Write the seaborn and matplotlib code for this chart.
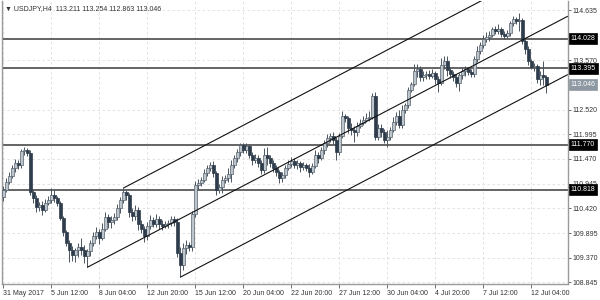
import numpy as np
import pandas as pd
import matplotlib
matplotlib.use("Agg")
import matplotlib.pyplot as plt
import seaborn as sns

# ---------------- data ----------------
opens = [
    110.662, 110.811, 110.982, 111.110, 111.281, 111.388, 111.345, 111.644, 111.666, 111.602,
    110.768, 110.640, 110.448, 110.491, 110.384, 110.533, 110.597, 110.704, 110.640, 110.533,
    110.213, 109.914, 109.679, 109.529, 109.422, 109.529, 109.593, 109.529, 109.401, 109.508,
    109.679, 109.828, 109.914, 109.785, 109.978, 110.234, 110.127, 110.170, 110.234, 110.426,
    110.597, 110.768, 110.704, 110.341, 110.256, 110.384, 110.085, 109.978, 109.828, 110.042,
    110.170, 110.085, 110.191, 110.085, 110.042, 110.085, 110.106, 110.191, 110.127, 109.465,
    109.208, 109.572, 109.636, 109.593, 110.298, 110.918, 110.961, 111.025, 111.174, 111.281,
    111.345, 111.174, 110.811, 110.875, 111.025, 111.067, 111.153, 111.345, 111.495, 111.623,
    111.773, 111.666, 111.751, 111.559, 111.452, 111.495, 111.388, 111.238, 111.559, 111.495,
    111.388, 111.281, 111.196, 111.067, 111.132, 111.281, 111.367, 111.431, 111.345, 111.388,
    111.303, 111.345, 111.281, 111.196, 111.324, 111.559, 111.495, 111.666, 111.815, 111.922,
    111.965, 111.879, 111.623, 111.965, 112.392, 112.350, 112.136, 112.093, 112.050, 112.179,
    112.243, 112.307, 112.350, 112.371, 112.798, 111.944, 112.136, 112.050, 111.879, 111.944,
    112.093, 112.264, 112.392, 112.200, 112.521, 112.627, 112.927, 113.055, 113.333, 113.375,
    113.204, 113.247, 113.268, 113.226, 113.290, 113.162, 113.076, 113.461, 113.546, 113.354,
    113.268, 113.204, 113.076, 113.247, 113.333, 113.375, 113.311, 113.268, 113.589, 113.760,
    113.888, 114.016, 114.059, 114.102, 114.230, 114.187, 114.230, 114.123, 114.080, 114.144,
    114.358, 114.444, 114.401, 114.422, 113.974, 113.803, 113.546, 113.418, 113.439, 113.162,
    113.247, 113.211,
]
highs = [
    110.897, 111.067, 111.196, 111.345, 111.473, 111.452, 111.687, 111.730, 111.709, 111.666,
    110.811, 110.704, 110.555, 110.576, 110.619, 110.683, 110.854, 110.811, 110.683, 110.576,
    110.256, 109.956, 109.743, 109.614, 109.572, 109.679, 109.785, 109.636, 109.550, 109.743,
    109.914, 110.020, 109.978, 110.106, 110.341, 110.298, 110.256, 110.320, 110.512, 110.662,
    110.854, 110.811, 110.747, 110.426, 110.491, 110.448, 110.170, 110.042, 110.127, 110.277,
    110.234, 110.298, 110.256, 110.170, 110.149, 110.170, 110.256, 110.256, 110.213, 109.593,
    109.679, 109.743, 109.700, 110.362, 111.003, 111.046, 111.089, 111.260, 111.345, 111.409,
    111.431, 111.217, 110.939, 111.110, 111.132, 111.281, 111.452, 111.559, 111.687, 111.815,
    111.815, 111.815, 111.794, 111.623, 111.580, 111.559, 111.452, 111.709, 111.730, 111.559,
    111.452, 111.345, 111.238, 111.196, 111.345, 111.452, 111.516, 111.495, 111.452, 111.431,
    111.409, 111.388, 111.367, 111.388, 111.666, 111.623, 111.730, 111.879, 112.008, 112.029,
    112.050, 111.944, 112.029, 112.499, 112.435, 112.392, 112.243, 112.179, 112.264, 112.328,
    112.392, 112.456, 112.499, 112.862, 112.884, 112.221, 112.221, 112.115, 112.093, 112.157,
    112.371, 112.478, 112.521, 112.627, 112.670, 112.991, 113.097, 113.482, 113.482, 113.439,
    113.333, 113.333, 113.354, 113.375, 113.333, 113.226, 113.610, 113.653, 113.653, 113.418,
    113.333, 113.268, 113.290, 113.418, 113.439, 113.418, 113.375, 113.653, 113.867, 113.952,
    114.102, 114.166, 114.187, 114.273, 114.294, 114.337, 114.273, 114.187, 114.209, 114.401,
    114.508, 114.486, 114.572, 114.465, 114.038, 113.867, 113.589, 113.503, 113.482, 113.333,
    113.546, 113.254,
]
lows = [
    110.576, 110.768, 110.939, 111.067, 111.196, 111.260, 111.281, 111.559, 111.538, 110.704,
    110.533, 110.341, 110.362, 110.277, 110.341, 110.491, 110.533, 110.555, 110.469, 110.170,
    109.828, 109.614, 109.273, 109.294, 109.273, 109.379, 109.422, 109.251, 109.166, 109.401,
    109.614, 109.764, 109.657, 109.743, 109.935, 109.999, 109.999, 110.085, 110.170, 110.320,
    110.533, 110.597, 110.234, 110.149, 110.170, 109.956, 109.892, 109.700, 109.743, 109.978,
    110.020, 110.020, 109.978, 109.956, 109.999, 109.999, 110.042, 110.042, 109.379, 108.952,
    109.102, 109.444, 109.508, 109.508, 110.234, 110.811, 110.897, 110.982, 111.110, 111.217,
    111.089, 110.704, 110.747, 110.747, 110.961, 110.982, 110.982, 111.281, 111.409, 111.538,
    111.602, 111.602, 111.495, 111.345, 111.388, 111.303, 111.153, 111.174, 111.345, 111.303,
    111.196, 111.110, 110.961, 110.982, 111.067, 111.238, 111.303, 111.281, 111.260, 111.196,
    111.238, 111.217, 111.089, 111.153, 111.281, 111.388, 111.452, 111.580, 111.730, 111.837,
    111.794, 111.452, 111.559, 111.922, 112.264, 112.029, 111.986, 111.837, 111.965, 112.136,
    112.200, 112.264, 112.286, 112.328, 111.879, 111.879, 111.944, 111.815, 111.730, 111.879,
    112.050, 112.200, 112.136, 112.136, 112.456, 112.563, 112.884, 113.012, 113.204, 113.119,
    113.119, 113.162, 113.162, 113.183, 113.055, 112.884, 113.033, 113.375, 113.226, 113.183,
    113.119, 112.991, 112.905, 113.162, 113.226, 113.247, 113.204, 113.204, 113.525, 113.696,
    113.824, 113.952, 113.974, 114.059, 114.123, 114.123, 114.059, 114.016, 114.038, 114.080,
    114.294, 114.337, 114.187, 113.909, 113.696, 113.461, 113.375, 113.333, 113.076, 113.033,
    113.033, 112.863,
]
closes = [
    110.811, 110.982, 111.110, 111.281, 111.388, 111.345, 111.644, 111.666, 111.602, 110.768,
    110.640, 110.448, 110.491, 110.384, 110.533, 110.597, 110.704, 110.640, 110.533, 110.213,
    109.914, 109.679, 109.529, 109.422, 109.529, 109.593, 109.529, 109.401, 109.508, 109.679,
    109.828, 109.914, 109.785, 109.978, 110.234, 110.127, 110.170, 110.234, 110.426, 110.597,
    110.768, 110.704, 110.341, 110.256, 110.384, 110.085, 109.978, 109.828, 110.042, 110.170,
    110.085, 110.191, 110.085, 110.042, 110.085, 110.106, 110.191, 110.127, 109.465, 109.208,
    109.572, 109.636, 109.593, 110.298, 110.918, 110.961, 111.025, 111.174, 111.281, 111.345,
    111.174, 110.811, 110.875, 111.025, 111.067, 111.153, 111.345, 111.495, 111.623, 111.773,
    111.666, 111.751, 111.559, 111.452, 111.495, 111.388, 111.238, 111.559, 111.495, 111.388,
    111.281, 111.196, 111.067, 111.132, 111.281, 111.367, 111.431, 111.345, 111.388, 111.303,
    111.345, 111.281, 111.196, 111.324, 111.559, 111.495, 111.666, 111.815, 111.922, 111.965,
    111.879, 111.623, 111.965, 112.392, 112.350, 112.136, 112.093, 112.050, 112.179, 112.243,
    112.307, 112.350, 112.371, 112.798, 111.944, 112.136, 112.050, 111.879, 111.944, 112.093,
    112.264, 112.392, 112.200, 112.521, 112.627, 112.927, 113.055, 113.333, 113.375, 113.204,
    113.247, 113.268, 113.226, 113.290, 113.162, 113.076, 113.461, 113.546, 113.354, 113.268,
    113.204, 113.076, 113.247, 113.333, 113.375, 113.311, 113.268, 113.589, 113.760, 113.888,
    114.016, 114.059, 114.102, 114.230, 114.187, 114.230, 114.123, 114.080, 114.144, 114.358,
    114.444, 114.401, 114.422, 113.974, 113.803, 113.546, 113.418, 113.439, 113.162, 113.247,
    113.211, 113.046,
]

date_tick_idx = [0, 16, 32, 48, 64, 80, 96, 112, 128, 144, 160, 176]
date_labels = ["31 May 2017", "5 Jun 12:00", "8 Jun 04:00", "12 Jun 20:00",
               "15 Jun 12:00", "20 Jun 04:00", "22 Jun 20:00", "27 Jun 12:00",
               "30 Jun 04:00", "4 Jul 20:00", "7 Jul 12:00", "12 Jul 04:00"]
price_ticks = [108.845, 109.370, 109.895, 110.420, 110.945, 111.470,
               111.995, 112.520, 113.570, 114.635]
levels = [114.028, 113.395, 111.770, 110.818]
last_price = 113.046
trend_start_idx = [40, 28, 59]
trend_start_price = [110.853, 109.170, 108.960]
trend_end_idx = [188, 188, 188]
trend_end_price = [115.790, 114.500, 113.260]
title = "\u25bc USDJPY,H4  113.211 113.254 112.863 113.046"

# ---------------- style ----------------
sns.set_style("white")
plt.rcParams["font.family"] = ["Liberation Sans", "DejaVu Sans"]

fig = plt.figure(figsize=(6, 3), dpi=100)
ax = fig.add_axes([2 / 600, 16 / 300, 566 / 600, 283 / 300])

df = pd.DataFrame({"idx": np.arange(len(closes)), "open": opens, "high": highs,
                   "low": lows, "close": closes})

FS = 5.0
TXT = "#333333"

# grid
ax.set_xticks(date_tick_idx)
ax.set_yticks(price_ticks)
ax.grid(True, color="#dedede", linestyle=(0, (3, 3)), linewidth=0.6, zorder=0)

# horizontal levels
for lv in levels:
    ax.axhline(lv, color="#3a3a3a", linewidth=1.1, zorder=2)

# trendlines
for x0, y0, x1, y1 in zip(trend_start_idx, trend_start_price, trend_end_idx, trend_end_price):
    tl = pd.DataFrame({"x": [x0, x1], "y": [y0, y1]})
    sns.lineplot(data=tl, x="x", y="y", ax=ax, color="#111111", linewidth=0.8,
                 sort=False, estimator=None, zorder=5)

# candles
ax.vlines(df["idx"], df["low"], df["high"], color="#4a5560", linewidth=0.7, zorder=3)
bull = df[df["close"] >= df["open"]]
bear = df[df["close"] < df["open"]]
ax.bar(bull["idx"], bull["close"] - bull["open"], bottom=bull["open"], width=0.72,
       color="#bcc4cc", edgecolor="#56616c", linewidth=0.5, zorder=4)
ax.bar(bear["idx"], bear["close"] - bear["open"], bottom=bear["open"], width=0.72,
       color="#2e3c4b", edgecolor="#2e3c4b", linewidth=0.5, zorder=4)

ax.set_xlim(-0.5, 188.17)
ax.set_ylim(108.813, 114.827)
ax.set_xlabel("")
ax.set_ylabel("")

# axes / ticks
ax.yaxis.tick_right()
ax.set_yticklabels([f"{p:.3f}" for p in price_ticks], fontsize=FS, color=TXT)
ax.set_xticklabels(date_labels, fontsize=FS, color=TXT, ha="left")
ax.tick_params(axis="y", which="both", right=True, left=False, length=2, width=0.6,
               pad=1.5, color="#555555")
ax.tick_params(axis="x", which="both", bottom=True, length=3, width=0.6, pad=1.2,
               color="#555555")
for lbl in ax.get_xticklabels():
    lbl.set_horizontalalignment("left")

for side in ["left", "right", "bottom"]:
    ax.spines[side].set_visible(True)
    ax.spines[side].set_color("#9a9a9a")
    ax.spines[side].set_linewidth(1.0)
ax.spines["top"].set_visible(False)

# price boxes on the right axis
ytr = ax.get_yaxis_transform()
for lv in levels:
    ax.text(1.0045, lv, f"{lv:.3f}", transform=ytr, ha="left", va="center",
            fontsize=FS, color="white", clip_on=False, zorder=10,
            bbox=dict(boxstyle="square,pad=0.28", fc="black", ec="black", lw=0.5))
ax.text(1.0045, last_price, f"{last_price:.3f}", transform=ytr, ha="left", va="center",
        fontsize=FS, color="white", clip_on=False, zorder=10,
        bbox=dict(boxstyle="square,pad=0.28", fc="#8d98a3", ec="#8d98a3", lw=0.5))

# title
ax.text(0.006, 0.985, title, transform=ax.transAxes, ha="left", va="top",
        fontsize=FS, color=TXT, zorder=10)

fig.savefig("out.png", dpi=100)
